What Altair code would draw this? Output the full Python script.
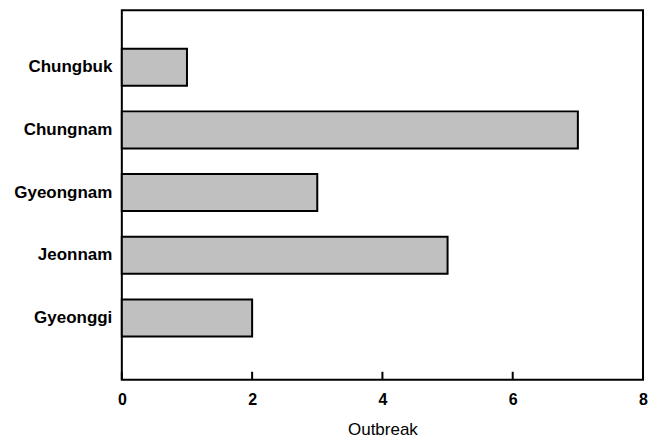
import altair as alt
import pandas as pd

regions = ["Chungbuk", "Chungnam", "Gyeongnam", "Jeonnam", "Gyeonggi"]
outbreaks = [1, 7, 3, 5, 2]
tick_values = [0, 2, 4, 6, 8]

df = pd.DataFrame({"region": regions, "outbreak": outbreaks})
ticks = pd.DataFrame({"t": tick_values})

FONT = "Liberation Sans"
x_scale = alt.Scale(domain=[0, 8], nice=False)

bars = alt.Chart(df).mark_bar(fill="#c0c0c0", stroke="black", strokeWidth=2).encode(
    x=alt.X("outbreak:Q", scale=x_scale,
            axis=alt.Axis(values=tick_values, title="Outbreak", grid=False, ticks=False,
                          domain=False, labelFont=FONT, labelFontSize=16,
                          labelFontWeight="bold", labelColor="black", labelPadding=12,
                          labelFlush=False,
                          titleFont=FONT, titleFontSize=17, titleFontWeight="normal",
                          titleColor="black", titlePadding=14, format="d")),
    y=alt.Y("region:N", sort=regions,
            scale=alt.Scale(paddingInner=0.41, paddingOuter=0.65, align=0.47),
            axis=alt.Axis(title=None, ticks=False, domain=False, labelFont=FONT,
                          labelFontSize=17, labelFontWeight="bold", labelColor="black",
                          labelPadding=10)),
)

tickmarks = alt.Chart(ticks).mark_rule(color="black", strokeWidth=2).encode(
    x=alt.X("t:Q", scale=x_scale),
    y=alt.value(362),
    y2=alt.value(370),
)

chart = alt.layer(bars, tickmarks).properties(
    width=522, height=370,
    background="white",
    autosize=alt.AutoSizeParams(type="none"),
    padding={"left": 114, "top": 2, "right": 10, "bottom": 60},
).configure_view(stroke="black", strokeWidth=2)

chart.save("out.html", embed_options={"renderer": "svg", "actions": False})
